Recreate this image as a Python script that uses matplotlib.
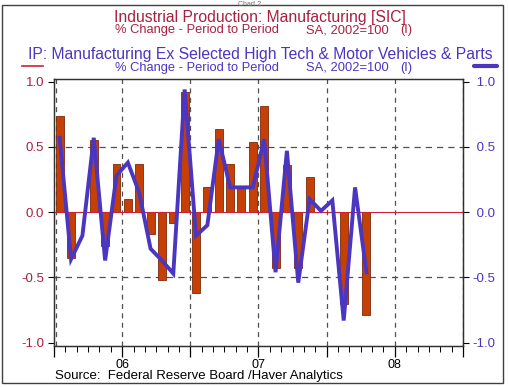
import numpy as np
import matplotlib
matplotlib.use('Agg')
import matplotlib.pyplot as plt
from matplotlib.patches import Rectangle
from matplotlib.lines import Line2D

plt.rcParams['font.family'] = ['Liberation Sans', 'DejaVu Sans']

# monthly data, Jul 2005 .. Oct 2007
months = ['2005-07', '2005-08', '2005-09', '2005-10', '2005-11', '2005-12',
          '2006-01', '2006-02', '2006-03', '2006-04', '2006-05', '2006-06',
          '2006-07', '2006-08', '2006-09', '2006-10', '2006-11', '2006-12',
          '2007-01', '2007-02', '2007-03', '2007-04', '2007-05', '2007-06',
          '2007-07', '2007-08', '2007-09', '2007-10']

# IP: Manufacturing [SIC], % change (bars, left axis)
ip_mfg = [0.74, -0.35, 0.00, 0.55, -0.26, 0.37,
          0.10, 0.37, -0.17, -0.52, -0.08, 0.92,
          -0.62, 0.19, 0.64, 0.37, 0.19, 0.54,
          0.81, -0.43, 0.36, -0.43, 0.27, 0.00,
          0.00, -0.70, 0.00, -0.79]

# IP: Manufacturing ex hi-tech & motor vehicles, % change (line, right axis)
ip_mfg_ex = [0.57, -0.36, -0.18, 0.57, -0.37, 0.28,
             0.38, 0.15, -0.28, -0.37, -0.47, 0.94,
             -0.18, -0.10, 0.56, 0.19, 0.19, 0.19,
             0.56, -0.46, 0.47, -0.54, 0.10, 0.01,
             0.09, -0.83, 0.19, -0.46]

year_labels = ['', '06', '', '07', '', '08', '']
yticks = [-1.0, -0.5, 0.0, 0.5, 1.0]

RED = '#a82040'
BLUE = '#4a36c0'

W, H = 510, 387
fig = plt.figure(figsize=(W / 100, H / 100), dpi=100)
ax = fig.add_axes([54 / W, (H - 346) / H, (463 - 54) / W, (346 - 79) / H])

x = np.arange(len(months)) + 0.5
ax.bar(x, ip_mfg, width=0.7, color='#c64006', edgecolor='#7a2a10',
       linewidth=0.6, zorder=2)
ax.axhline(0, color='#d02038', lw=0.8, zorder=3)
for yv in (-0.5, 0.5):
    ax.axhline(yv, color='#505050', lw=0.9, ls=(0, (5, 4)), zorder=1)
for xv in range(0, 37, 6):
    ax.axvline(xv + 0.15 if xv == 0 else xv, color='#505050', lw=0.9,
               ls=(0, (4, 3.5)), zorder=1)

ax.set_xlim(0, 36)
ax.set_ylim(-1.025, 1.02)
ax.set_yticks(yticks)
ax.set_yticklabels(['%.1f' % v for v in yticks])
ax.set_xticks(range(0, 37, 6))
ax.set_xticklabels(year_labels)
ax.set_xticks(range(0, 37), minor=True)
ax.tick_params(axis='y', colors='black', labelcolor=RED, labelsize=9.5,
               length=4, width=0.8, pad=3, direction='out')
ax.tick_params(axis='x', which='major', length=8, width=0.9, labelsize=9,
               pad=1, direction='out')
ax.tick_params(axis='x', which='minor', length=4, width=0.7, direction='out')
for s in ax.spines.values():
    s.set_linewidth(0.9)
    s.set_color('#303030')

ax2 = ax.twinx()
ax2.plot(x, ip_mfg_ex, color=BLUE, lw=2.8, solid_joinstyle='miter', zorder=4)
ax2.set_ylim(ax.get_ylim())
ax2.set_yticks(yticks)
ax2.set_yticklabels([('%.1f' % v) if v < 0 else (' %.1f' % v) for v in yticks])
ax2.tick_params(axis='y', colors='black', labelcolor=BLUE, labelsize=9.5,
                length=4, width=0.8, pad=3, direction='out')
for s in ax2.spines.values():
    s.set_linewidth(0.9)
    s.set_color('#303030')

# titles
def fx(px):
    return px / W

def fy(py):
    return 1 - py / H

fig.text(fx(260), fy(22), 'Industrial Production: Manufacturing [SIC]',
         color=RED, fontsize=11.3, ha='center', va='baseline')
fig.text(fx(115), fy(33.5), '% Change - Period to Period', color=RED,
         fontsize=9.3, ha='left', va='baseline')
fig.text(fx(306), fy(33.5), 'SA, 2002=100', color=RED, fontsize=9.3,
         ha='left', va='baseline')
fig.text(fx(400), fy(33.5), '(I)', color=RED, fontsize=9.3, ha='left',
         va='baseline')

fig.text(fx(260), fy(59.5),
         'IP: Manufacturing Ex Selected High Tech & Motor Vehicles & Parts',
         color=BLUE, fontsize=11.3, ha='center', va='baseline')
fig.text(fx(115), fy(71), '% Change - Period to Period', color=BLUE,
         fontsize=9.3, ha='left', va='baseline')
fig.text(fx(306), fy(71), 'SA, 2002=100', color=BLUE, fontsize=9.3,
         ha='left', va='baseline')
fig.text(fx(400), fy(71), '(I)', color=BLUE, fontsize=9.3, ha='left',
         va='baseline')

fig.add_artist(Line2D([fx(22), fx(43)], [fy(66), fy(66)], color='#d02038',
                      lw=1.2))
fig.add_artist(Line2D([fx(474), fx(497)], [fy(66), fy(66)], color=BLUE,
                      lw=3.0, solid_capstyle='round'))

fig.text(fx(55), fy(378.5), 'Source:  Federal Reserve Board /Haver Analytics',
         color='black', fontsize=9.5, ha='left', va='baseline')

fig.text(fx(250), fy(0.5), 'Chart 2', color='#707070', fontsize=5,
         ha='center', va='top')

fig.add_artist(Rectangle((fx(2), fy(383)), fx(503) - fx(2), fy(5) - fy(383),
                         transform=fig.transFigure, fill=False,
                         edgecolor='#404040', lw=1.0))

fig.savefig('out.png', dpi=100, facecolor='white')
